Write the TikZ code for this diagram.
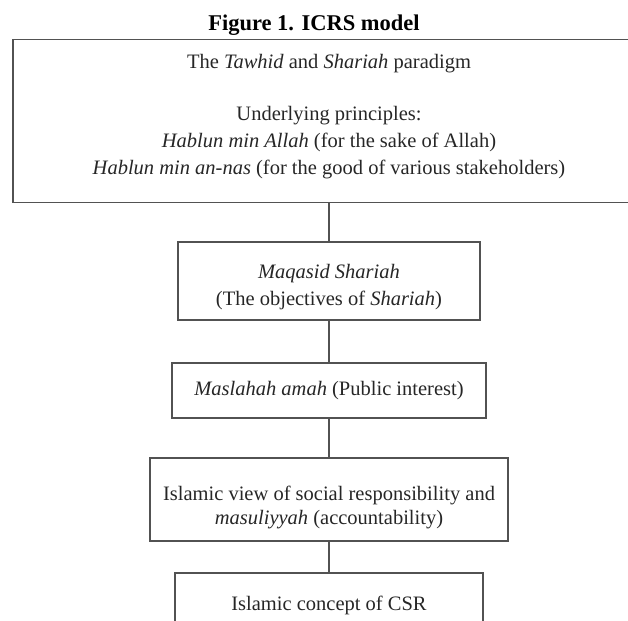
\documentclass[tikz,border=0pt]{standalone}
\usepackage{fontspec}
\setmainfont{Liberation Serif}
\begin{document}
\begin{tikzpicture}[x=1pt,y=-1pt,
  boxnode/.style={draw=black!68, line width=1.5pt, inner sep=0pt, anchor=north},
  txt/.style={font=\fontsize{20.5}{26}\selectfont, text=black!85, inner sep=0pt, anchor=base},
  link/.style={draw=black!68, line width=1.5pt}]
\useasboundingbox (0,0) rectangle (628,620);
\node[font=\fontsize{22.5}{27}\selectfont\bfseries, inner sep=0pt, anchor=base] (title) at (314,31) {Figure 1. ICRS model};
% boxes
\node[boxnode, minimum width=632pt, minimum height=163pt] (top) at (329,39) {};
\node[boxnode, minimum width=302pt, minimum height=78pt] (maq) at (329,241) {};
\node[boxnode, minimum width=314pt, minimum height=55pt] (mas) at (329,362) {};
\node[boxnode, minimum width=358pt, minimum height=83pt] (view) at (329,457) {};
\node[boxnode, minimum width=308pt, minimum height=80pt] (csr) at (329,572) {};
% texts
\node[txt] (t1) at (329,69) {The \textit{Tawhid} and \textit{Shariah} paradigm};
\node[txt] (t2) at (329,121) {Underlying principles:};
\node[txt] (t3) at (329,148) {\textit{Hablun min Allah} (for the sake of Allah)};
\node[txt] (t4) at (329,175) {\textit{Hablun min an-nas} (for the good of various stakeholders)};
\node[txt] (m1) at (329,278) {\textit{Maqasid Shariah}};
\node[txt] (m2) at (329,305) {(The objectives of \textit{Shariah})};
\node[txt] (p1) at (329,395) {\textit{Maslahah amah} (Public interest)};
\node[txt] (v1) at (329,500) {Islamic view of social responsibility and};
\node[txt] (v2) at (329,524) {\textit{masuliyyah} (accountability)};
\node[txt] (c1) at (329,610) {Islamic concept of CSR};
% connectors
\draw[link] (top.south) -- (maq.north);
\draw[link] (maq.south) -- (mas.north);
\draw[link] (mas.south) -- (view.north);
\draw[link] (view.south) -- (csr.north);
\end{tikzpicture}
\end{document}
